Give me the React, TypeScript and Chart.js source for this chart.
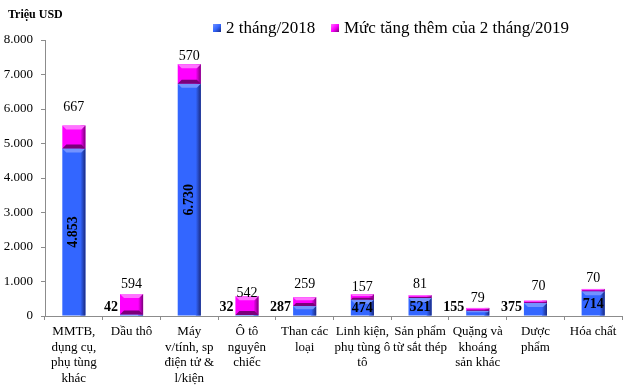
import React, { useEffect, useRef } from "react";
import { Chart, registerables } from "chart.js";

Chart.register(...registerables);

const categories: string[][] = [
  ["MMTB,", "dụng cụ,", "phụ tùng", "khác"],
  ["Dầu thô"],
  ["Máy", "v/tính, sp", "điện tử &", "l/kiện"],
  ["Ô tô", "nguyên", "chiếc"],
  ["Than các", "loại"],
  ["Linh kiện,", "phụ tùng ô", "tô"],
  ["Sản phẩm", "từ sắt thép"],
  ["Quặng và", "khoáng", "sản khác"],
  ["Dược", "phẩm"],
  ["Hóa chất"],
];

const values2018 = [4853, 42, 6730, 32, 287, 474, 521, 155, 375, 714];
const increase2019 = [667, 594, 570, 542, 259, 157, 81, 79, 70, 70];
const yTicks = [0, 1000, 2000, 3000, 4000, 5000, 6000, 7000, 8000];
const seriesNames = ["2 tháng/2018", "Mức tăng thêm của 2 tháng/2019"];
const unitLabel = "Triệu USD";

// styling: lift (px) of the top labels above each stack, and small x shifts
const topLabelLift = [18, 10, 8, 3, 13, 7, 11, 10, 14, 11];
const topLabelShift = [0, 0, 0, 0, 0, 0, 0, 0, 3, 0];

const FONT = "'Liberation Serif', 'Times New Roman', serif";

const palettes = [
  { base: "#3366FF", dark: "#1A2A80", light: "#7393FF", bottom: false },
  { base: "#FF00FF", dark: "#7A007A", light: "#FF73FF", bottom: true },
];

const fmt = (v: number) => String(v).replace(/\B(?=(\d{3})+(?!\d))/g, ".");

const shadePlugin = {
  id: "shade",
  afterDatasetsDraw(chart: any) {
    const ctx = chart.ctx;
    chart.data.datasets.forEach((_ds: any, di: number) => {
      const meta = chart.getDatasetMeta(di);
      const pal = palettes[di];
      meta.data.forEach((el: any) => {
        const { x, y, base, width } = el.getProps(["x", "y", "base", "width"], true);
        const L = x - width / 2;
        const R = x + width / 2;
        const T = Math.min(y, base);
        const B = Math.max(y, base);
        const h = B - T;
        if (h <= 0) return;
        const b = Math.min(4, h / 3);
        ctx.save();
        const g = ctx.createLinearGradient(R - 5, 0, R, 0);
        g.addColorStop(0, pal.base);
        g.addColorStop(1, pal.dark);
        ctx.fillStyle = g;
        ctx.fillRect(R - 5, T, 5, h);
        ctx.fillStyle = pal.light;
        ctx.beginPath();
        ctx.moveTo(L, T);
        ctx.lineTo(R, T);
        ctx.lineTo(R - b, T + b);
        ctx.lineTo(L + b, T + b);
        ctx.closePath();
        ctx.fill();
        if (pal.bottom) {
          ctx.fillStyle = pal.dark;
          ctx.beginPath();
          ctx.moveTo(L, B);
          ctx.lineTo(R, B);
          ctx.lineTo(R - b, B - b);
          ctx.lineTo(L + b, B - b);
          ctx.closePath();
          ctx.fill();
        }
        ctx.restore();
      });
    });
  },
};

const labelPlugin = {
  id: "labels",
  afterDraw(chart: any) {
    const ctx = chart.ctx;
    const m0 = chart.getDatasetMeta(0);
    const m1 = chart.getDatasetMeta(1);
    ctx.save();
    ctx.fillStyle = "#000";
    m0.data.forEach((el: any, i: number) => {
      const { x, y, base, width } = el.getProps(["x", "y", "base", "width"], true);
      const h = base - y;
      const txt = fmt(values2018[i]);
      ctx.font = `bold 14px ${FONT}`;
      if (h > 60) {
        ctx.save();
        ctx.translate(x, (y + base) / 2);
        ctx.rotate(-Math.PI / 2);
        ctx.textAlign = "center";
        ctx.textBaseline = "middle";
        ctx.fillText(txt, 0, 0);
        ctx.restore();
      } else if (h > 14) {
        ctx.textAlign = "center";
        ctx.textBaseline = "middle";
        ctx.fillText(txt, x, (y + base) / 2 + 1);
      } else {
        ctx.textAlign = "right";
        ctx.textBaseline = "middle";
        ctx.fillText(txt, x - width / 2 - 2, base - 8);
      }
    });
    m1.data.forEach((el: any, i: number) => {
      const { x, y } = el.getProps(["x", "y"], true);
      ctx.font = `14px ${FONT}`;
      ctx.textAlign = "center";
      ctx.textBaseline = "middle";
      ctx.fillText(fmt(increase2019[i]), x + topLabelShift[i], y - topLabelLift[i]);
    });

    // unit label
    ctx.font = `bold 12px ${FONT}`;
    ctx.textAlign = "left";
    ctx.textBaseline = "middle";
    ctx.fillText(unitLabel, 8, 15);

    // legend
    const items = [
      { sx: 213, tx: 226 },
      { sx: 331, tx: 344 },
    ];
    items.forEach((it, i) => {
      const pal = palettes[i];
      const g = ctx.createLinearGradient(it.sx, 24, it.sx + 8, 32);
      g.addColorStop(0, pal.light);
      g.addColorStop(0.5, pal.base);
      g.addColorStop(1, pal.dark);
      ctx.fillStyle = g;
      ctx.fillRect(it.sx, 24, 8, 8);
      ctx.fillStyle = "#000";
      ctx.font = `17px ${FONT}`;
      ctx.textAlign = "left";
      ctx.textBaseline = "middle";
      ctx.fillText(seriesNames[i], it.tx, 29);
    });
    ctx.restore();
  },
};

export default function App() {
  const ref = useRef<HTMLCanvasElement | null>(null);
  useEffect(() => {
    document.body.style.margin = "0";
    const canvas = ref.current;
    if (!canvas) return;
    Chart.defaults.font.family = FONT;
    const chart = new Chart(canvas, {
      type: "bar",
      data: {
        labels: categories,
        datasets: [
          {
            label: seriesNames[0],
            data: values2018,
            backgroundColor: palettes[0].base,
            borderWidth: 0,
            categoryPercentage: 1,
            barPercentage: 0.4,
          },
          {
            label: seriesNames[1],
            data: increase2019,
            backgroundColor: palettes[1].base,
            borderWidth: 0,
            categoryPercentage: 1,
            barPercentage: 0.4,
          },
        ],
      },
      options: {
        responsive: false,
        animation: false,
        devicePixelRatio: 1,
        layout: { padding: { top: 40, right: 2, left: 0, bottom: 0 } },
        plugins: {
          legend: { display: false },
          tooltip: { enabled: false },
        },
        scales: {
          x: {
            stacked: true,
            grid: {
              drawOnChartArea: false,
              drawTicks: true,
              tickLength: 4,
              color: "#8C8C8C",
              offset: true,
            },
            border: { color: "#8C8C8C", width: 1 },
            ticks: {
              autoSkip: false,
              maxRotation: 0,
              minRotation: 0,
              padding: 4,
              color: "#000",
              font: { family: FONT, size: 13, lineHeight: 1.2 },
            },
            afterFit(scale: any) {
              scale.height = 75;
            },
          },
          y: {
            stacked: true,
            min: 0,
            max: 8000,
            grid: {
              drawOnChartArea: false,
              drawTicks: true,
              tickLength: 4,
              color: "#8C8C8C",
            },
            border: { color: "#8C8C8C", width: 1 },
            afterBuildTicks(scale: any) {
              scale.ticks = yTicks.map((v) => ({ value: v }));
            },
            ticks: {
              padding: 8,
              color: "#000",
              font: { family: FONT, size: 13 },
              callback: (v: any) => fmt(Number(v)),
            },
            afterFit(scale: any) {
              scale.width = 45;
            },
          },
        },
      },
      plugins: [shadePlugin, labelPlugin],
    } as any);
    return () => chart.destroy();
  }, []);
  return (
    <div style={{ width: 624, height: 391, background: "#fff" }}>
      <canvas ref={ref} width={624} height={391} style={{ display: "block" }} />
    </div>
  );
}
